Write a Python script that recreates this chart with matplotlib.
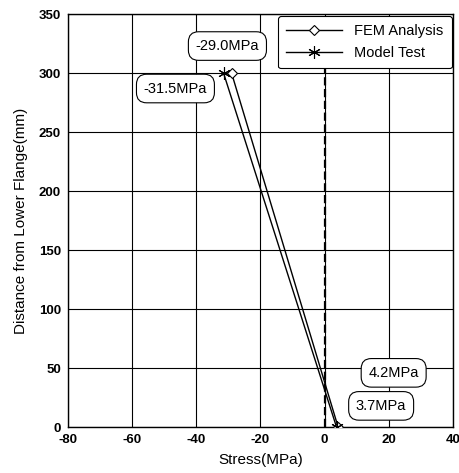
import matplotlib.pyplot as plt

plt.rcParams['font.family'] = ['Liberation Sans', 'DejaVu Sans']
plt.rcParams['axes.unicode_minus'] = False

# data
height = [0, 300]
fem_stress = [4.2, -29.0]
test_stress = [3.7, -31.5]

notes = ['-29.0MPa', '-31.5MPa', '4.2MPa', '3.7MPa']
note_xy = [(-29.0, 300), (-31.5, 300), (4.2, 0), (3.7, 0)]
note_text_xy = [(-30.3, 323), (-46.5, 287), (21.5, 46), (17.6, 18)]

fig = plt.figure(figsize=(4.59, 4.73), dpi=100)
ax = fig.add_axes([0.148, 0.097, 0.839, 0.873])

ax.plot(fem_stress, height, color='black', lw=1.0, marker='D', ms=5,
        mfc='white', mec='black', mew=0.8, label='FEM Analysis', zorder=3)
ax.plot(test_stress, height, color='black', lw=1.0, marker=(6, 2, 0), ms=9,
        mec='black', mew=0.8, label='Model Test', zorder=3)

ax.axvline(0, color='black', lw=1.6, ls='--', zorder=2)

for txt, xy, xyt in zip(notes, note_xy, note_text_xy):
    ax.annotate(txt, xy=xy, xytext=xyt, fontsize=10.5, ha='center', va='center',
                bbox=dict(boxstyle='round,pad=0.5,rounding_size=0.7', fc='white', ec='black', lw=0.8),
                zorder=6)

ax.set_xlim(-80, 40)
ax.set_ylim(0, 350)
ax.set_xticks(range(-80, 41, 20))
ax.set_yticks(range(0, 351, 50))
ax.grid(True, color='black', lw=0.8)
ax.set_axisbelow(True)
ax.tick_params(length=0, labelsize=9.5, pad=5)
for lab in ax.get_xticklabels() + ax.get_yticklabels():
    lab.set_fontweight('bold')
for s in ax.spines.values():
    s.set_linewidth(1.0)

ax.set_xlabel('Stress(MPa)', fontsize=11, labelpad=5)
ax.set_ylabel('Distance from Lower Flange(mm)', fontsize=11, labelpad=8)

leg = ax.legend(loc='upper right', fontsize=10.5, frameon=True, fancybox=True,
                edgecolor='black', framealpha=1, handlelength=3.8, borderaxespad=0.1,
                borderpad=0.6, handletextpad=0.8)
leg.get_frame().set_linewidth(0.8)

fig.savefig('out.png', dpi=100)
